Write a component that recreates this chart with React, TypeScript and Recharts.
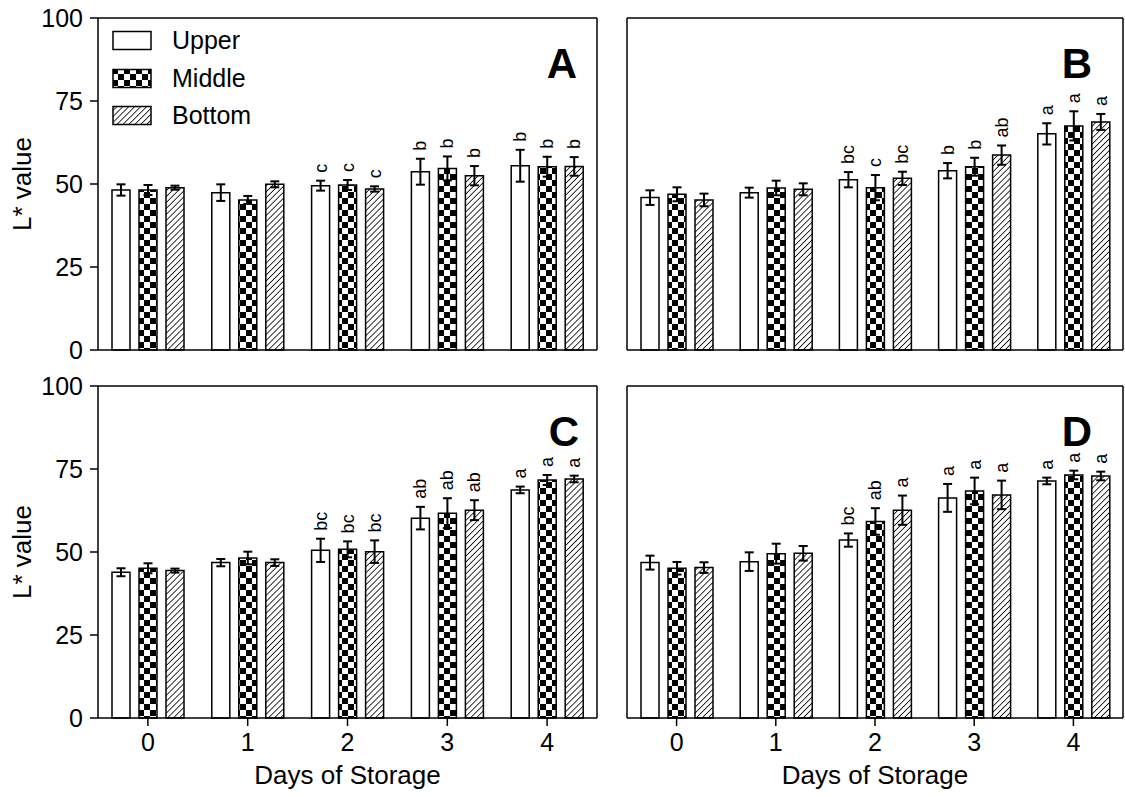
import React from "react";
import { BarChart, Bar, XAxis, YAxis, ErrorBar, LabelList, Legend } from "recharts";

const days = ["0", "1", "2", "3", "4"];
const layers = ["Upper", "Middle", "Bottom"];
const yTicks = [0, 25, 50, 75, 100];

// L* means, rows = upper / middle / bottom
const meanA = [
  [48.2, 47.4, 49.5, 53.7, 55.5],
  [48.2, 45.2, 49.7, 54.7, 55.2],
  [48.9, 49.9, 48.5, 52.5, 55.3],
];
const errA = [
  [1.7, 2.5, 1.5, 3.9, 4.8],
  [1.5, 1.2, 1.5, 3.6, 3.0],
  [0.6, 0.9, 0.8, 2.9, 2.8],
];
const sigA = [
  ["", "", "c", "b", "b"],
  ["", "", "c", "b", "b"],
  ["", "", "c", "b", "b"],
];

const meanB = [
  [45.9, 47.4, 51.3, 54.0, 65.1],
  [46.9, 48.8, 48.9, 55.2, 67.5],
  [45.2, 48.4, 51.7, 58.7, 68.7],
];
const errB = [
  [2.2, 1.5, 2.3, 2.3, 3.2],
  [2.1, 2.2, 3.8, 2.7, 4.4],
  [1.9, 1.8, 2.0, 2.9, 2.4],
];
const sigB = [
  ["", "", "bc", "b", "a"],
  ["", "", "c", "b", "a"],
  ["", "", "bc", "ab", "a"],
];

const meanC = [
  [43.9, 46.8, 50.5, 60.2, 68.7],
  [45.1, 48.2, 50.8, 61.7, 71.7],
  [44.4, 46.8, 50.1, 62.6, 72.0],
];
const errC = [
  [1.2, 1.1, 3.5, 3.4, 1.0],
  [1.5, 1.9, 2.4, 4.5, 1.5],
  [0.6, 1.0, 3.4, 3.0, 1.0],
];
const sigC = [
  ["", "", "bc", "ab", "a"],
  ["", "", "bc", "ab", "a"],
  ["", "", "bc", "ab", "a"],
];

const meanD = [
  [46.8, 47.1, 53.6, 66.3, 71.4],
  [45.1, 49.5, 59.2, 68.4, 73.2],
  [45.3, 49.6, 62.6, 67.2, 72.9],
];
const errD = [
  [2.1, 2.8, 2.0, 4.2, 1.0],
  [1.9, 3.0, 4.0, 4.0, 1.3],
  [1.6, 2.2, 4.4, 4.3, 1.3],
];
const sigD = [
  ["", "", "bc", "a", "a"],
  ["", "", "ab", "a", "a"],
  ["", "", "a", "a", "a"],
];

const keys = ["u", "m", "b"];
const axisStroke = { stroke: "#000", strokeWidth: 1.5 };

function buildRows(mean: number[][], err: number[][], sig: string[][]) {
  return days.map((d, i) => {
    const row: any = { day: d };
    keys.forEach((k, s) => {
      row[k] = mean[s][i];
      row[k + "Err"] = err[s][i];
      row[k + "Sig"] = sig[s][i];
    });
    return row;
  });
}

// rotated significance letter sitting above the error bar
const sigLabel = (means: number[], errs: number[]) => (props: any) => {
  const { value, index } = props;
  if (!value) return null;
  const vb = props.viewBox || {};
  const x = Number(props.x ?? vb.x);
  const y = Number(props.y ?? vb.y);
  const w = Number(props.width ?? vb.width);
  const h = Number(props.height ?? vb.height);
  const cx = x + w / 2;
  const ppu = h / means[index];
  const top = y - errs[index] * ppu - 8;
  return (
    <text x={cx} y={top} transform={`rotate(-90 ${cx} ${top})`} textAnchor="start"
      dominantBaseline="central" fontSize={18} fill="#000">
      {value}
    </text>
  );
};

function Patterns({ id }: { id: string }) {
  return (
    <defs>
      <pattern id={`chk-${id}`} width={12} height={12} patternUnits="userSpaceOnUse">
        <rect width={12} height={12} fill="#fff" />
        <rect width={6} height={6} fill="#000" />
        <rect x={6} y={6} width={6} height={6} fill="#000" />
      </pattern>
      <pattern id={`hatch-${id}`} width={4.2} height={4.2} patternUnits="userSpaceOnUse" patternTransform="rotate(45)">
        <rect width={4.2} height={4.2} fill="#fff" />
        <line x1={0} y1={0} x2={0} y2={4.2} stroke="#000" strokeWidth={1.6} />
      </pattern>
    </defs>
  );
}

interface PanelProps {
  id: string;
  mean: number[][];
  err: number[][];
  sig: string[][];
  left: number;
  top: number;
  width: number;
  height: number;
  yWidth: number;
  xHeight: number;
  rightMargin: number;
  letterInset: number;
  yLabels: boolean;
  xLabels: boolean;
  legend?: boolean;
}

function Panel(p: PanelProps) {
  const data = buildRows(p.mean, p.err, p.sig);
  const fills = ["#fff", `url(#chk-${p.id})`, `url(#hatch-${p.id})`];

  const renderLegend = () => (
    <div style={{ display: "flex", flexDirection: "column" }}>
      {layers.map((n, i) => (
        <div key={n} style={{ display: "flex", alignItems: "center", height: 37.5 }}>
          <svg width={40} height={21}>
            <rect x={1} y={1.5} width={38} height={18} fill={fills[i]} stroke="#000" strokeWidth={1.5} />
          </svg>
          <span style={{ marginLeft: 20, fontSize: 25, color: "#000" }}>{n}</span>
        </div>
      ))}
    </div>
  );

  const yLabel = (props: any) => {
    const vb = props.viewBox;
    const cy = vb.y + vb.height / 2;
    const x = 22;
    return (
      <text x={x} y={cy} transform={`rotate(-90 ${x} ${cy})`} textAnchor="middle"
        dominantBaseline="central" fontSize={26} fill="#000">
        L* value
      </text>
    );
  };

  const xLabel = (props: any) => {
    const vb = props.viewBox;
    return (
      <text x={vb.x + vb.width / 2} y={vb.y + 66} textAnchor="middle" fontSize={26} fill="#000">
        Days of Storage
      </text>
    );
  };

  const panelLetter = (props: any) => {
    const vb = props.viewBox;
    return (
      <text x={vb.x - p.letterInset} y={vb.y + 60} textAnchor="end" fontSize={42} fontWeight="bold" fill="#000">
        {p.id}
      </text>
    );
  };

  return (
    <div style={{ position: "absolute", left: p.left, top: p.top }}>
      <BarChart width={p.width} height={p.height} data={data} barSize={18} barGap={9}
        margin={{ top: 17, right: p.rightMargin, bottom: 0, left: 0 }}>
        <Patterns id={p.id} />
        <XAxis dataKey="day" height={p.xHeight} axisLine={axisStroke} tickLine={axisStroke} tickSize={8} tickMargin={7}
          tick={p.xLabels ? { fill: "#000", fontSize: 25 } : false}
          label={p.xLabels ? xLabel : undefined} />
        <XAxis xAxisId="top" orientation="top" dataKey="day" height={1} axisLine={axisStroke} tick={false} tickLine={false} />
        <YAxis domain={[0, 100]} ticks={yTicks} width={p.yWidth} axisLine={axisStroke} tickLine={axisStroke}
          tickSize={8} tickMargin={7} interval={0}
          tick={p.yLabels ? { fill: "#000", fontSize: 25 } : false}
          label={p.yLabels ? yLabel : undefined} />
        <YAxis yAxisId="right" orientation="right" domain={[0, 100]} width={1} axisLine={axisStroke} tick={false}
          tickLine={false} label={panelLetter} />
        {p.legend && (
          <Legend layout="vertical" align="center" verticalAlign="middle" content={renderLegend}
            wrapperStyle={{ left: 112, top: 22, width: 200 }} />
        )}
        {keys.map((k, s) => (
          <Bar key={k} dataKey={k} name={layers[s]} fill={fills[s]} stroke="#000" strokeWidth={1.5}
            isAnimationActive={false}>
            <ErrorBar dataKey={k + "Err"} width={4.5} stroke="#000" strokeWidth={2} direction="y" isAnimationActive={false} />
            <LabelList dataKey={k + "Sig"} content={sigLabel(p.mean[s], p.err[s])} />
          </Bar>
        ))}
      </BarChart>
    </div>
  );
}

export default function App() {
  return (
    <div style={{ position: "absolute", left: 0, top: 0, width: 1125, height: 797, background: "#fff",
      fontFamily: "'Liberation Sans', Arial, sans-serif" }}>
      <Panel id="A" mean={meanA} err={errA} sig={sigA} left={0} top={0} width={600} height={368}
        yWidth={98} xHeight={18} rightMargin={2} letterInset={20} yLabels xLabels={false} legend />
      <Panel id="B" mean={meanB} err={errB} sig={sigB} left={600} top={0} width={525} height={368}
        yWidth={27} xHeight={18} rightMargin={1} letterInset={31} yLabels={false} xLabels={false} />
      <Panel id="C" mean={meanC} err={errC} sig={sigC} left={0} top={368} width={600} height={429}
        yWidth={98} xHeight={79} rightMargin={2} letterInset={18} yLabels xLabels />
      <Panel id="D" mean={meanD} err={errD} sig={sigD} left={600} top={368} width={525} height={429}
        yWidth={27} xHeight={79} rightMargin={1} letterInset={31} yLabels={false} xLabels />
    </div>
  );
}
